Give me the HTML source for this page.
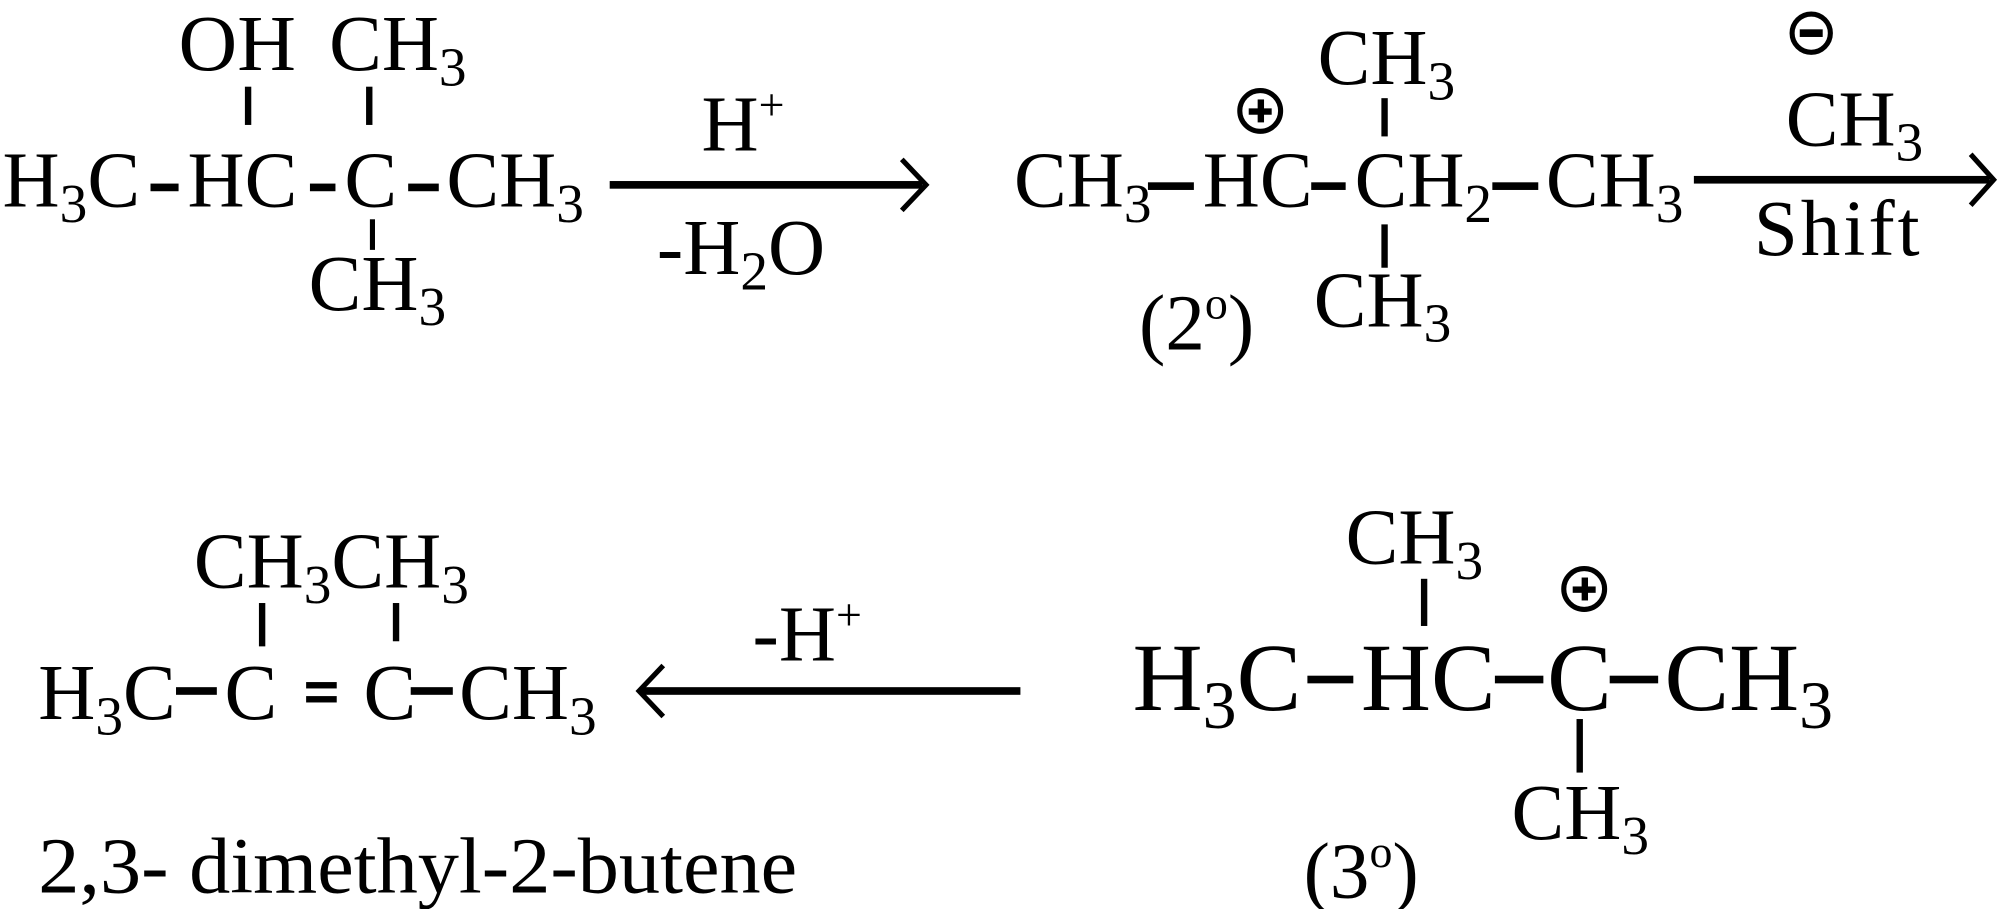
<!DOCTYPE html>
<html><head><meta charset="utf-8"><style>
html,body{margin:0;padding:0;background:#fff;}
svg{display:block;}
text{font-family:"Liberation Serif",serif;fill:#000;}
.s{font-size:0.7em;}
</style></head><body>
<svg width="2000" height="909" viewBox="0 0 1568 713" preserveAspectRatio="none" xmlns="http://www.w3.org/2000/svg">
<g font-size="62">
<!-- Row 1 left -->
<text x="140" y="55" textLength="92" lengthAdjust="spacingAndGlyphs">OH</text>
<text x="258" y="55">CH<tspan class="s" dy="12">3</tspan></text>
<rect x="192" y="68" width="5" height="30"/>
<rect x="287" y="68" width="5" height="30"/>
<text x="2" y="162">H<tspan class="s" dy="12">3</tspan><tspan dy="-12">C</tspan></text>
<rect x="118" y="144" width="22" height="6"/>
<text x="147" y="162">HC</text>
<rect x="243" y="144" width="20" height="6"/>
<text x="270" y="162">C</text>
<rect x="320" y="144" width="24" height="6"/>
<text x="350" y="162">CH<tspan class="s" dy="12">3</tspan></text>
<rect x="290" y="172" width="4" height="24"/>
<text x="242" y="243">CH<tspan class="s" dy="12">3</tspan></text>
<!-- arrow 1 -->
<rect x="478" y="142" width="245" height="6"/>
<polyline points="707,125 726,145 707,165" fill="none" stroke="#000" stroke-width="4"/>
<text x="550" y="118">H<tspan font-size="36" dy="-24">+</tspan></text>
<text x="515" y="215">-H<tspan class="s" dy="12">2</tspan><tspan dy="-12">O</tspan></text>

<!-- Row 1 right -->
<text x="1033" y="66">CH<tspan class="s" dy="12">3</tspan></text>
<rect x="1083" y="77" width="5" height="30"/>
<circle cx="988" cy="87" r="16" fill="none" stroke="#000" stroke-width="4"/>
<rect x="979" y="85" width="18" height="5"/><rect x="986" y="78" width="5" height="18"/>
<text x="795" y="162">CH<tspan class="s" dy="12">3</tspan></text>
<rect x="900" y="143" width="36" height="6"/>
<text x="943" y="162">HC</text>
<rect x="1028" y="143" width="27" height="6"/>
<text x="1062" y="162">CH<tspan class="s" dy="12">2</tspan></text>
<rect x="1170" y="143" width="36" height="6"/>
<text x="1212" y="162">CH<tspan class="s" dy="12">3</tspan></text>
<rect x="1083" y="176" width="5" height="34"/>
<text x="1030" y="256">CH<tspan class="s" dy="12">3</tspan></text>
<text x="893" y="274">(2<tspan font-size="36" dy="-24">o</tspan><tspan dy="24">)</tspan></text>
<!-- arrow 2 -->
<rect x="1328" y="138" width="232" height="6"/>
<polyline points="1545,121 1563,141 1545,161" fill="none" stroke="#000" stroke-width="4"/>
<circle cx="1420" cy="26" r="15" fill="none" stroke="#000" stroke-width="4"/>
<rect x="1411" y="23" width="18" height="6"/>
<text x="1400" y="114">CH<tspan class="s" dy="12">3</tspan></text>
<text x="1375" y="200" textLength="130" lengthAdjust="spacing">Shift</text>

<!-- Row 2 left -->
<text x="152" y="461">CH<tspan class="s" dy="12">3</tspan><tspan dy="-12">CH</tspan><tspan class="s" dy="12">3</tspan></text>
<rect x="203" y="473" width="5" height="34"/>
<rect x="308" y="473" width="5" height="30"/>
<text x="30" y="564">H<tspan class="s" dy="12">3</tspan><tspan dy="-12">C</tspan></text>
<rect x="138" y="539" width="32" height="6"/>
<text x="176" y="564">C</text>
<rect x="240" y="535" width="24" height="5"/><rect x="240" y="546" width="24" height="5"/>
<text x="285" y="564">C</text>
<rect x="322" y="539" width="33" height="6"/>
<text x="360" y="564">CH<tspan class="s" dy="12">3</tspan></text>
<!-- arrow 3 -->
<rect x="502" y="539" width="298" height="6"/>
<polyline points="520,522 501,542 520,562" fill="none" stroke="#000" stroke-width="4"/>
<text x="590" y="518">-H<tspan font-size="36" dy="-24">+</tspan></text>
<text x="30" y="700" textLength="595" lengthAdjust="spacingAndGlyphs">2,3- dimethyl-2-butene</text>

<!-- Row 2 right -->
<text x="1055" y="442">CH<tspan class="s" dy="12">3</tspan></text>
<rect x="1114" y="454" width="5" height="37"/>
<circle cx="1242" cy="462" r="16" fill="none" stroke="#000" stroke-width="4"/>
<rect x="1233" y="460" width="18" height="5"/><rect x="1240" y="453" width="5" height="18"/>
<text x="1185" y="658">CH<tspan class="s" dy="12">3</tspan></text>
<rect x="1236" y="564" width="5" height="42"/>
<text x="1022" y="704">(3<tspan font-size="36" dy="-24">o</tspan><tspan dy="24">)</tspan></text>
</g>
<g font-size="76">
<text x="888" y="557">H<tspan class="s" dy="14">3</tspan><tspan dy="-14">C</tspan></text>
<rect x="1025" y="530" width="36" height="6"/>
<text x="1067" y="557">HC</text>
<rect x="1172" y="530" width="38" height="6"/>
<text x="1213" y="557">C</text>
<rect x="1262" y="530" width="38" height="6"/>
<text x="1305" y="557">CH<tspan class="s" dy="14">3</tspan></text>
</g>
</svg>
</body></html>
